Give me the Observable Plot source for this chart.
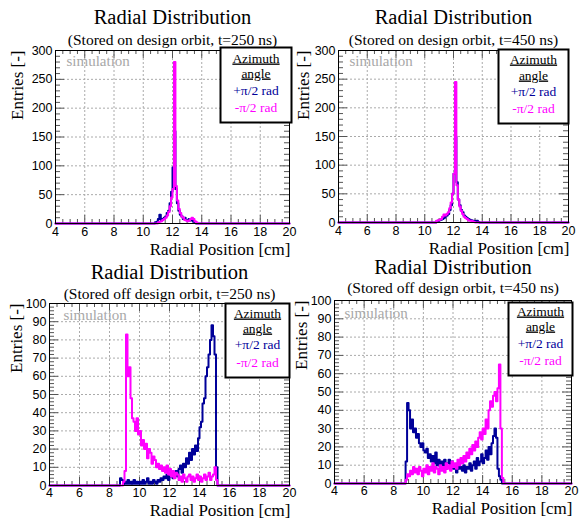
<!DOCTYPE html>
<html><head><meta charset="utf-8">
<script src="https://cdn.jsdelivr.net/npm/d3@7"></script>
<script src="https://cdn.jsdelivr.net/npm/@observablehq/plot@0.6"></script>
<style>
body{margin:0;background:#fff;}
#wrap{position:relative;width:581px;height:519px;overflow:hidden;background:#fff;}
#wrap svg{position:absolute;overflow:visible;}
#wrap text.serif{font-family:"Liberation Serif","Times New Roman",Times,serif !important;}
#wrap text.sans{font-family:"Liberation Sans",Arial,Helvetica,sans-serif !important;}
</style></head><body><div id="wrap"></div>
<script>
// ---------- data ----------
const xDomain = [4, 20];
const binWidth = 0.1;
const xTickLabels = [4, 6, 8, 10, 12, 14, 16, 18, 20];
const titles = ["Radial Distribution", "Radial Distribution", "Radial Distribution", "Radial Distribution"];
const subtitles = [
  "(Stored on design orbit, t=250 ns)",
  "(Stored on design orbit, t=450 ns)",
  "(Stored off design orbit, t=250 ns)",
  "(Stored off design orbit, t=450 ns)"
];
const legendLines = ["Azimuth", "angle", "+\u03c0/2 rad", "-\u03c0/2 rad"];
const xTitle = "Radial Position [cm]";
const yTitle = "Entries [-]";
const watermark = "simulation";

// top-left: on orbit, t=250 ns
const tlPlusStart = 10.8;
const tlPlus = [2,3,8,15,5,8,10,12,18,22,35,55,97,160,60,35,22,15,12,8,10,6,5,8,5,6,3,2];
const tlMinusStart = 11.0;
const tlMinus = [2,3,4,6,8,10,14,20,30,45,60,280,65,40,25,18,12,10,6,5,4,5,8,10,8,4,2];
// top-right: on orbit, t=450 ns
const trPlusStart = 10.8;
const trPlus = [2,3,4,5,6,8,10,12,15,22,30,50,85,150,70,40,30,22,18,12,10,8,6,5,4,3,3,2,3,1];
const trMinusStart = 10.8;
const trMinus = [3,4,5,6,10,14,12,15,18,25,35,50,85,245,65,40,28,20,15,10,8,6,4,3,3,2,1];
// bottom-left: off orbit, t=250 ns
const blPlusStart = 8.7;
const blPlus = [4,3,1,2,1,3,1,2,1,3,1,2,1,2,1,3,1,2,4,1,2,1,3,2,1,3,2,4,3,5,4,6,3,5,7,4,6,8,5,9,11,7,12,10,15,12,18,14,20,17,22,19,26,32,35,45,48,60,65,72,80,88,82,72,10,0,0];
const blMinusStart = 8.7;
const blMinus = [0,0,2,8,83,60,65,48,37,35,30,37,28,30,22,25,20,23,15,20,18,12,16,14,10,12,9,11,8,10,7,11,6,9,5,8,4,7,6,3,5,2,6,4,2,5,6,3,5,2,4,6,3,5,2,4,6,3,5,7,3,5,6,10,3,0,0];
// bottom-right: off orbit, t=450 ns
const brPlusStart = 8.7;
const brPlus = [0,12,44,40,30,35,28,30,25,27,22,20,22,18,17,19,14,16,12,15,11,17,10,13,9,12,10,13,8,11,13,9,12,8,10,6,11,8,9,7,10,6,9,8,11,7,10,12,8,14,10,12,16,11,14,18,13,20,16,22,26,30,25,8,4,2,0];
const brMinusStart = 8.7;
const brMinus = [0,2,5,4,7,5,9,6,8,5,9,7,4,8,6,10,5,9,7,11,6,9,8,5,10,7,9,6,11,8,10,7,12,9,11,8,13,10,14,11,15,12,17,14,19,16,21,18,23,20,25,28,24,30,27,35,30,40,45,42,48,50,45,52,65,30,3,0];

// ---------- helpers ----------
const SERIF = "Liberation Serif";
const SANS = "Liberation Sans";
const BLUE = "#000099";
const MAGENTA = "#ff00ff";

function histRows(start, values) {
  const n = Math.round((xDomain[1] - xDomain[0]) / binWidth);
  const off = Math.round((start - xDomain[0]) / binWidth);
  const rows = [];
  for (let i = 0; i < n; i++) {
    const j = i - off;
    rows.push({x: Math.round((xDomain[0] + i * binWidth) * 10) / 10, y: (j >= 0 && j < values.length) ? values[j] : 0});
  }
  rows.push({x: xDomain[1], y: rows[rows.length - 1].y});
  return rows;
}

function panel(c) {
  const fw = c.width - c.m.left - c.m.right;
  const fh = c.height - c.m.top - c.m.bottom;
  const xMajor = d3.range(4, 20.001, 2);
  const xMinor = d3.range(4, 20.001, 0.5).filter(v => v % 2 !== 0);
  const yMajor = d3.range(0, c.yMax + 0.001, c.yMajorStep);
  const yMinor = d3.range(0, c.yMax + 0.001, c.yMinorStep).filter(v => v % c.yMajorStep !== 0);
  const L = c.legend;
  const tick = "#555";
  const marks = [
    Plot.ruleX(xMajor.filter(v => v > 4 && v < 20), {stroke: "#aaa", strokeDasharray: "2,2"}),
    Plot.ruleY(yMajor.filter(v => v > 0 && v < c.yMax), {stroke: "#aaa", strokeDasharray: "2,2"}),
    Plot.ruleX(xMajor, {stroke: tick, insetTop: fh - 8}),
    Plot.ruleX(xMinor, {stroke: tick, insetTop: fh - 4}),
    Plot.ruleX(xMajor, {stroke: tick, insetBottom: fh - 8}),
    Plot.ruleX(xMinor, {stroke: tick, insetBottom: fh - 4}),
    Plot.ruleY(yMajor, {stroke: tick, insetRight: fw - 9}),
    Plot.ruleY(yMinor, {stroke: tick, insetRight: fw - 5}),
    Plot.ruleY(yMajor, {stroke: tick, insetLeft: fw - 9}),
    Plot.ruleY(yMinor, {stroke: tick, insetLeft: fw - 5}),
    Plot.text([watermark], {text: d => d, frameAnchor: "top-left", textAnchor: "start", lineAnchor: "bottom", dx: c.sim[0], dy: c.sim[1], fill: "#a8a8a8", fontSize: 15, fontFamily: SERIF}),
    Plot.line(histRows(c.plusStart, c.plus), {x: "x", y: "y", curve: "step-after", stroke: BLUE, strokeWidth: 2}),
    Plot.line(histRows(c.minusStart, c.minus), {x: "x", y: "y", curve: "step-after", stroke: MAGENTA, strokeWidth: 2}),
    Plot.frame({stroke: "black"}),
    Plot.axisX(xTickLabels, {anchor: "bottom", tickSize: 0, tickPadding: c.xPad, fontSize: 12.5, fontFamily: SANS, label: null}),
    Plot.axisY(yMajor, {anchor: "left", tickSize: 0, tickPadding: 3, fontSize: 12.5, fontFamily: SANS, label: null}),
    Plot.text([c.title], {text: d => d, frameAnchor: "top", lineAnchor: "bottom", dy: c.titleDy, fontSize: 20.5, fontFamily: SERIF}),
    Plot.text([c.subtitle], {text: d => d, frameAnchor: "top", lineAnchor: "bottom", dy: c.subDy, fontSize: 15.5, fontFamily: SERIF}),
    Plot.text([xTitle], {text: d => d, frameAnchor: "bottom-right", textAnchor: "end", lineAnchor: "bottom", dx: 1, dy: c.xLabDy, fontSize: 17, fontFamily: SERIF}),
    Plot.text([yTitle], {text: d => d, frameAnchor: "top-left", rotate: -90, textAnchor: "end", lineAnchor: "middle", dx: c.yLabDx, fontSize: 17, fontFamily: SERIF}),
    Plot.frame({fill: "white", stroke: "black", strokeWidth: 2,
      insetRight: -L.rOut, insetTop: -L.tOut, insetLeft: fw + L.rOut - L.w, insetBottom: fh + L.tOut - L.h}),
    ...legendLines.map((t, i) => Plot.text([t], {text: d => d, frameAnchor: "top-right", textAnchor: "middle", lineAnchor: "bottom",
      dx: L.rOut - L.w / 2, dy: L.ys[i], fontSize: 13.5, fontFamily: SERIF,
      fill: i === 2 ? BLUE : i === 3 ? MAGENTA : "black"}))
  ];
  const svg = Plot.plot({
    width: c.width, height: c.height,
    marginTop: c.m.top, marginRight: c.m.right, marginBottom: c.m.bottom, marginLeft: c.m.left,
    x: {domain: xDomain, axis: null},
    y: {domain: [0, c.yMax], axis: null},
    style: {background: "transparent", color: "black"},
    marks
  });
  svg.style.left = c.left + "px";
  svg.style.top = c.top + "px";
  d3.select(svg).selectAll("text").each(function () {
    const holder = this.closest("[font-family]");
    const fam = holder ? holder.getAttribute("font-family") : SANS;
    this.classList.add(fam === SERIF ? "serif" : "sans");
  });
  d3.select(svg).selectAll("text")
    .filter(function () { return this.textContent === "Azimuth" || this.textContent === "angle"; })
    .style("text-decoration", "underline");
  document.getElementById("wrap").appendChild(svg);
}

panel({left: 0, top: 0, width: 292, height: 258, m: {top: 50, right: 3, bottom: 35, left: 55},
  yMax: 300, yMajorStep: 50, yMinorStep: 10, plusStart: tlPlusStart, plus: tlPlus, minusStart: tlMinusStart, minus: tlMinus,
  title: titles[0], subtitle: subtitles[0], titleDy: -27, subDy: -6, xLabDy: 31, yLabDx: -38, xPad: 4,
  sim: [11, 15], legend: {rOut: 2, tOut: 3, w: 71, h: 75, ys: [12, 27, 44, 61]}});
panel({left: 292, top: 0, width: 289, height: 258, m: {top: 50, right: 13, bottom: 36, left: 46},
  yMax: 300, yMajorStep: 50, yMinorStep: 10, plusStart: trPlusStart, plus: trPlus, minusStart: trMinusStart, minus: trMinus,
  title: titles[1], subtitle: subtitles[1], titleDy: -27, subDy: -6, xLabDy: 31, yLabDx: -35, xPad: 4,
  sim: [11, 15], legend: {rOut: 0, tOut: 1, w: 70, h: 74, ys: [13, 29, 45, 62]}});
panel({left: 0, top: 258, width: 292, height: 261, m: {top: 45, right: 3, bottom: 34, left: 49},
  yMax: 100, yMajorStep: 10, yMinorStep: 2, plusStart: blPlusStart, plus: blPlus, minusStart: blMinusStart, minus: blMinus,
  title: titles[2], subtitle: subtitles[2], titleDy: -25, subDy: -5, xLabDy: 30, yLabDx: -33, xPad: 3,
  sim: [14, 16], legend: {rOut: 0, tOut: 0, w: 64, h: 74, ys: [14, 29, 45, 63]}});
panel({left: 292, top: 258, width: 289, height: 261, m: {top: 42, right: 10, bottom: 36, left: 42},
  yMax: 100, yMajorStep: 10, yMinorStep: 2, plusStart: brPlusStart, plus: brPlus, minusStart: brMinusStart, minus: brMinus,
  title: titles[3], subtitle: subtitles[3], titleDy: -27, subDy: -8, xLabDy: 30, yLabDx: -33, xPad: 3,
  sim: [10, 17], legend: {rOut: 1, tOut: -2, w: 64, h: 73, ys: [15, 30, 47, 64]}});
</script></body></html>
